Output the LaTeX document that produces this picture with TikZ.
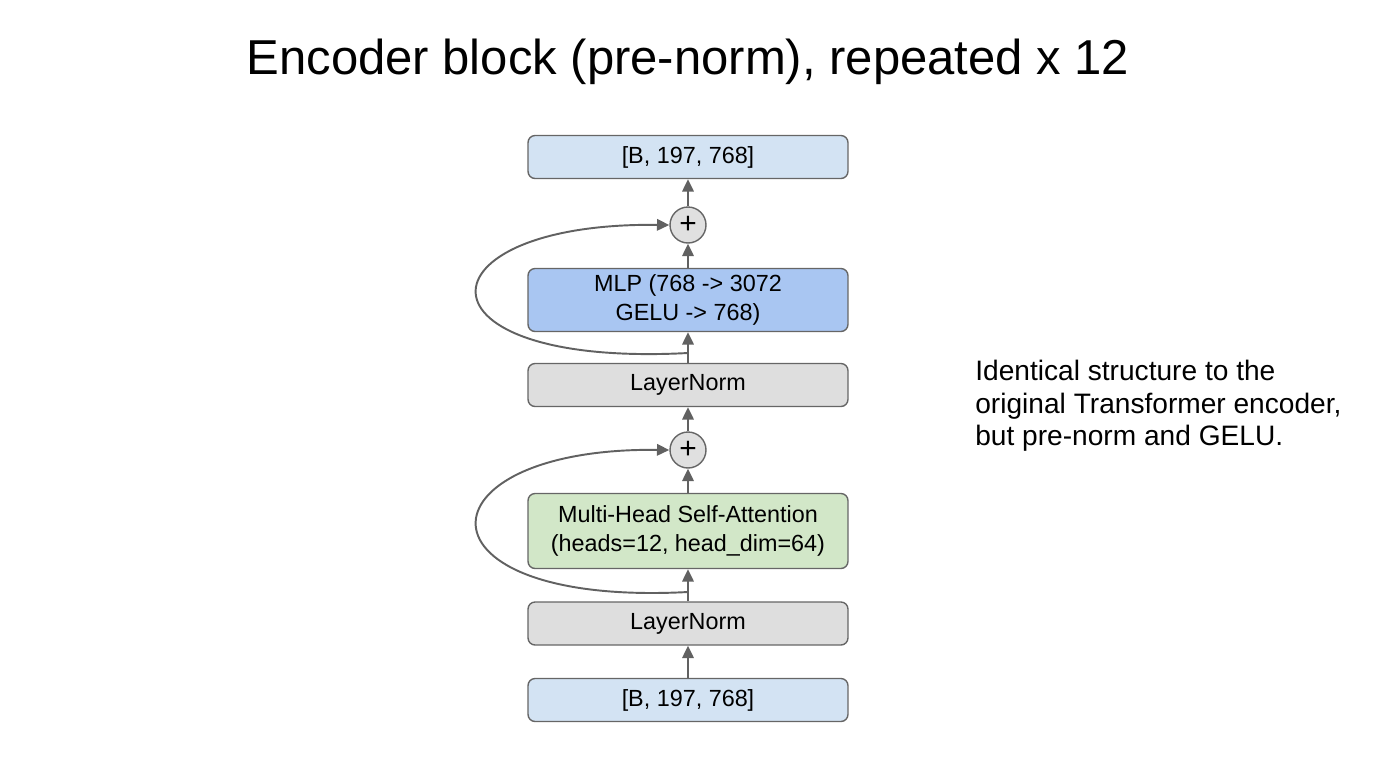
\documentclass[tikz,border=0pt]{standalone}
\usepackage{fontspec}
\setmainfont{Liberation Sans}
\usetikzlibrary{arrows.meta}
\begin{document}
\begin{tikzpicture}[x=0.02cm,y=-0.02cm,
  layerbox/.style={draw=black!60,line width=0.8pt,rounded corners=4pt,minimum width=6.4cm,
    minimum height=0.86cm,align=center,font=\fontsize{13.3}{16.5}\selectfont},
  addnode/.style={circle,draw=black!60,fill=black!12,line width=0.8pt,minimum size=0.72cm,
    inner sep=0pt,font=\fontsize{17}{17}\selectfont},
  flow/.style={draw=black!62,line width=1.1pt,-{Triangle[length=7pt,width=6.5pt]}}]
\useasboundingbox (0,0) rectangle (1376,768);
\definecolor{tensorblue}{HTML}{D3E3F3}
\definecolor{mlpblue}{HTML}{A9C6F2}
\definecolor{attngreen}{HTML}{D2E7C8}
\definecolor{normgrey}{HTML}{DEDEDE}

\node (title) at (688,62) {\fontsize{27.9}{32}\selectfont Encoder block (pre-norm), repeated x 12};

\node[layerbox,fill=tensorblue] (xin) at (688,700) {[B, 197, 768]};
\node[layerbox,fill=normgrey] (ln1) at (688,623.5) {LayerNorm};
\node[layerbox,fill=attngreen,minimum height=1.5cm] (attn) at (688,531) {Multi-Head Self-Attention\\(heads=12, head\_dim=64)};
\node[addnode] (add1) at (688,450) {+};
\node[layerbox,fill=normgrey] (ln2) at (688,385) {LayerNorm};
\node[layerbox,fill=mlpblue,minimum height=1.26cm] (mlp) at (688,300) {MLP (768 -> 3072\\GELU -> 768)};
\node[addnode] (add2) at (688,225) {+};
\node[layerbox,fill=tensorblue] (xout) at (688,157) {[B, 197, 768]};

\node[anchor=west,align=left,inner sep=0pt,font=\fontsize{16}{18.4}\selectfont] (note) at (975,406)
  {Identical structure to the\\original Transformer encoder,\\but pre-norm and GELU.};

\coordinate (res1) at (688,592);
\coordinate (res2) at (688,353);

\draw[flow] (xin) -- (ln1);
\draw[flow] (ln1) -- (attn);
\draw[flow] (attn) -- (add1);
\draw[flow] (add1) -- (ln2);
\draw[flow] (ln2) -- (mlp);
\draw[flow] (mlp) -- (add2);
\draw[flow] (add2) -- (xout);
\draw[flow] (res1) .. controls (405,607) and (415,447) .. (add1.west);
\draw[flow] (res2) .. controls (405,368) and (415,222) .. (add2.west);
\end{tikzpicture}
\end{document}
